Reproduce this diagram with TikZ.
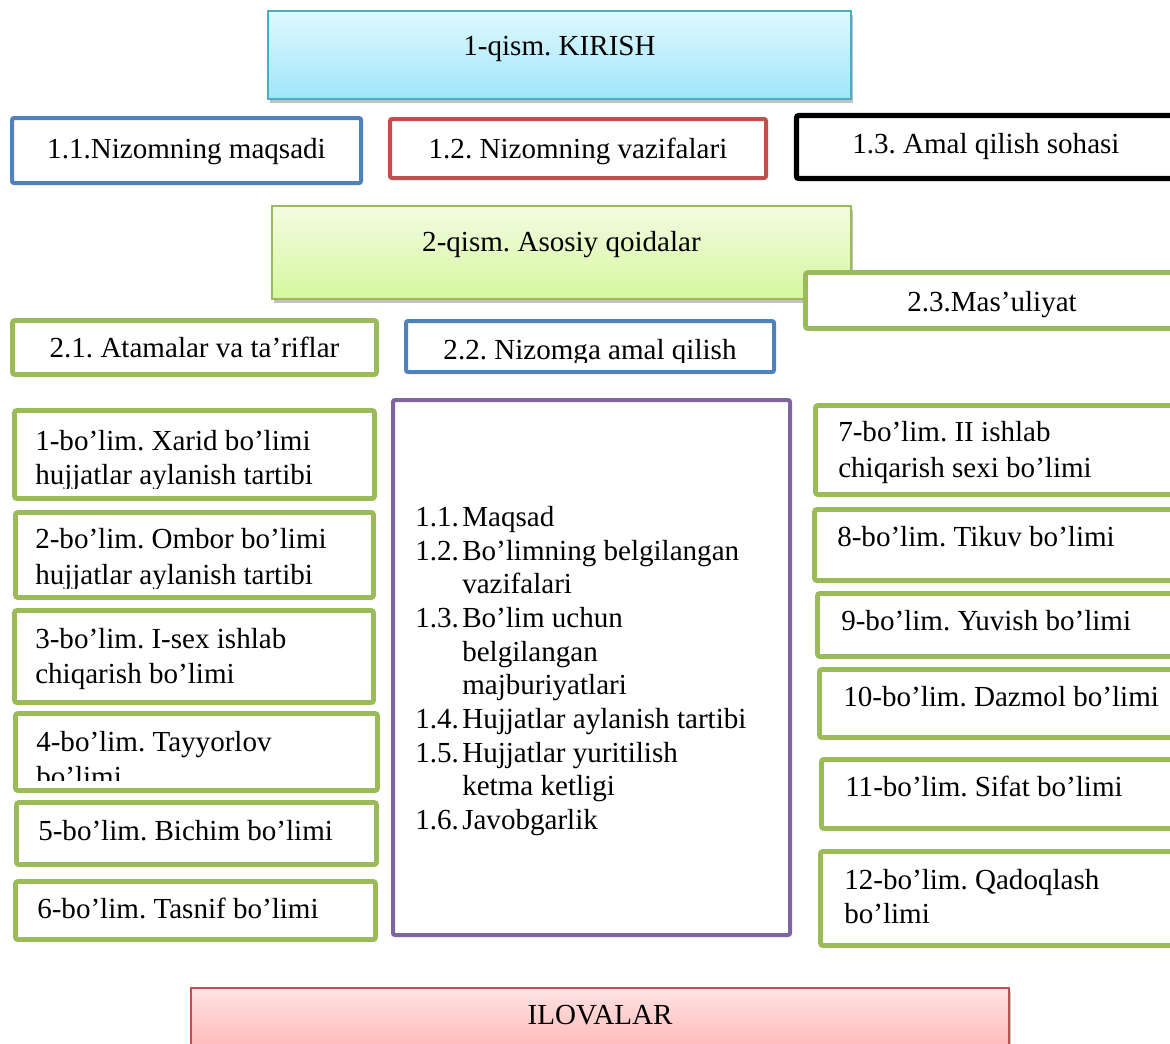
\documentclass[tikz,border=0pt]{standalone}
\usepackage{fontspec}
\setmainfont{Liberation Serif}
\usetikzlibrary{fit,shadows}
\definecolor{cblue}{HTML}{4F81BD}
\definecolor{cred}{HTML}{C0504D}
\definecolor{cgreen}{HTML}{9BBB59}
\definecolor{cpurple}{HTML}{8064A2}
\definecolor{ccyan}{HTML}{4BACC6}
\definecolor{cyantop}{HTML}{E0F8FE}
\definecolor{cyanbot}{HTML}{9FE6F9}
\definecolor{greentop}{HTML}{F3FBE2}
\definecolor{greenbot}{HTML}{D6F79E}
\definecolor{pinktop}{HTML}{FFE3E3}
\definecolor{pinkbot}{HTML}{FFAAAA}
\frenchspacing
\begin{document}
\begin{tikzpicture}[x=0.75pt,y=-0.75pt,
  frame/.style={draw, inner sep=0pt, rounded corners=1.5pt, fill=white},
  greenbox/.style={frame, draw=cgreen, line width=3.4pt},
  bluebox/.style={frame, draw=cblue, line width=3pt},
  redbox/.style={frame, draw=cred, line width=3pt},
  blackbox/.style={frame, draw=black, line width=3.8pt},
  purplebox/.style={frame, draw=cpurple, line width=3pt},
  headbox/.style={draw, inner sep=0pt, line width=1.4pt,
     drop shadow={shadow xshift=1.5pt, shadow yshift=-3pt, opacity=0.35, fill=black!70}},
  txt/.style={inner sep=0pt, font=\fontsize{21.8}{25.35}\selectfont},
  ctxt/.style={txt, anchor=base},
  ltxt/.style={txt, anchor=base west}]
\useasboundingbox (0,0) rectangle (1170,1043);
\clip (0,0) rectangle (1170,1043);

% ---------- Part 1 ----------
\node[headbox, draw=ccyan, top color=cyantop, bottom color=cyanbot, fit={(268,11) (851,99)}] (kirish) {};
\node[ctxt] (tkirish) at (559.5,55) {1-qism. KIRISH};

\node[bluebox, fit={(12,118) (361,183)}] (b11) {};
\node[ctxt] (tb11) at (186.5,158) {1.1.Nizomning maqsadi};
\node[redbox, fit={(390,119) (766,178)}] (b12) {};
\node[ctxt] (tb12) at (578,158) {1.2. Nizomning vazifalari};
\node[blackbox, fit={(796.5,115.5) (1190,178.5)}] (b13) {};
\node[ltxt] (tb13) at (852,153) {1.3. Amal qilish sohasi};

% ---------- Part 2 ----------
\node[headbox, draw=cgreen, top color=greentop, bottom color=greenbot, fit={(272,206) (851,299)}] (asosiy) {};
\node[ctxt] (tasosiy) at (561.5,251) {2-qism. Asosiy qoidalar};

\node[greenbox, fit={(805.5,272.5) (1190,328.5)}] (b23) {};
\node[ltxt] (tb23) at (907,311) {2.3.Mas’uliyat};
\node[greenbox, fit={(12.5,320.5) (376.5,374.5)}] (b21) {};
\node[ctxt] (tb21) at (194.5,357) {2.1. Atamalar va ta’riflar};
\node[bluebox, fit={(406,321) (774,372)}] (b22) {};
\begin{scope}
  \clip (400,315) rectangle (780,362);
  \node[ctxt] (tb22) at (590,359) {2.2. Nizomga amal qilish};
\end{scope}

% ---------- left column ----------
\node[greenbox, fit={(14.5,410.5) (374.5,498.5)}] (s1) {};
\node[ltxt] (ts1a) at (35,450) {1-bo’lim. Xarid bo’limi};
\begin{scope}
  \clip (20,455) rectangle (370,488);
  \node[ltxt] (ts1b) at (35,484) {hujjatlar aylanish tartibi};
\end{scope}

\node[greenbox, fit={(15.5,512.5) (373.5,597.5)}] (s2) {};
\node[ltxt] (ts2a) at (35,548) {2-bo’lim. Ombor bo’limi};
\begin{scope}
  \clip (20,555) rectangle (370,588);
  \node[ltxt] (ts2b) at (35,584) {hujjatlar aylanish tartibi};
\end{scope}

\node[greenbox, fit={(14.5,610.5) (373.5,702.5)}] (s3) {};
\node[ltxt] (ts3a) at (35,648) {3-bo’lim. I-sex ishlab};
\node[ltxt] (ts3b) at (35,683) {chiqarish bo’limi};

\node[greenbox, fit={(15.5,713.5) (377.5,790.5)}] (s4) {};
\node[ltxt] (ts4a) at (36,751) {4-bo’lim. Tayyorlov};
\begin{scope}
  \clip (20,758) rectangle (370,780);
  \node[ltxt] (ts4b) at (36,786) {bo’limi};
\end{scope}

\node[greenbox, fit={(16.5,802.5) (376.5,864.5)}] (s5) {};
\node[ltxt] (ts5) at (38,840) {5-bo’lim. Bichim bo’limi};

\node[greenbox, fit={(15.5,881.5) (375.5,939.5)}] (s6) {};
\node[ltxt] (ts6) at (37,918) {6-bo’lim. Tasnif bo’limi};

% ---------- middle list ----------
\node[purplebox, fit={(393,400) (790,935)}] (list) {};
\node[ltxt] (n1) at (415,526) {1.1.};
\node[ltxt] (i1) at (462,526) {Maqsad};
\node[ltxt] (n2) at (415,560) {1.2.};
\node[ltxt] (i2a) at (462,560) {Bo’limning belgilangan};
\node[ltxt] (i2b) at (462,593) {vazifalari};
\node[ltxt] (n3) at (415,627) {1.3.};
\node[ltxt] (i3a) at (462,627) {Bo’lim uchun};
\node[ltxt] (i3b) at (462,661) {belgilangan};
\node[ltxt] (i3c) at (462,694) {majburiyatlari};
\node[ltxt] (n4) at (415,728) {1.4.};
\node[ltxt] (i4) at (462,728) {Hujjatlar aylanish tartibi};
\node[ltxt] (n5) at (415,762) {1.5.};
\node[ltxt] (i5a) at (462,762) {Hujjatlar yuritilish};
\node[ltxt] (i5b) at (462,795) {ketma ketligi};
\node[ltxt] (n6) at (415,829) {1.6.};
\node[ltxt] (i6) at (462,829) {Javobgarlik};

% ---------- right column ----------
\node[greenbox, fit={(815.5,405.5) (1190,494.5)}] (s7) {};
\node[ltxt] (ts7a) at (838,441) {7-bo’lim. II ishlab};
\node[ltxt] (ts7b) at (838,477) {chiqarish sexi bo’limi};

\node[greenbox, fit={(814.5,509.5) (1190,580.5)}] (s8) {};
\node[ltxt] (ts8) at (837,546) {8-bo’lim. Tikuv bo’limi};

\node[greenbox, fit={(817.5,593.5) (1190,656.5)}] (s9) {};
\node[ltxt] (ts9) at (841,630) {9-bo’lim. Yuvish bo’limi};

\node[greenbox, fit={(819.5,669.5) (1190,737.5)}] (s10) {};
\node[ltxt] (ts10) at (843,706) {10-bo’lim. Dazmol bo’limi};

\node[greenbox, fit={(821.5,759.5) (1190,828.5)}] (s11) {};
\node[ltxt] (ts11) at (845,796) {11-bo’lim. Sifat bo’limi};

\node[greenbox, fit={(820.5,851.5) (1190,945.5)}] (s12) {};
\node[ltxt] (ts12a) at (844,889) {12-bo’lim. Qadoqlash};
\node[ltxt] (ts12b) at (844,923) {bo’limi};

% ---------- appendix ----------
\node[headbox, draw=cred, top color=pinktop, bottom color=pinkbot, fit={(191,988) (1009,1070)}] (ilova) {};
\node[ctxt] (tilova) at (600,1024) {ILOVALAR};
\end{tikzpicture}
\end{document}
